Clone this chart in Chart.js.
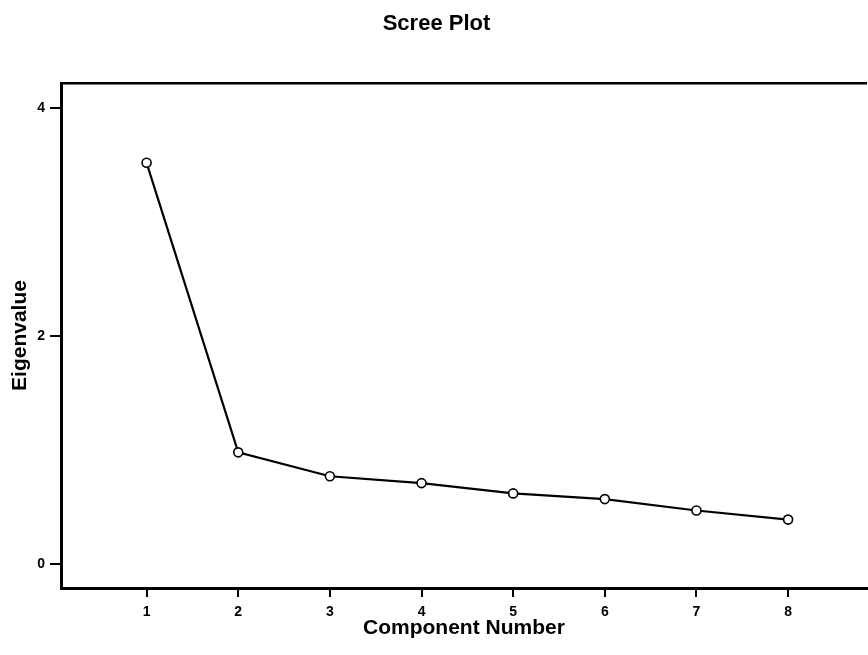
<!DOCTYPE html>
<html>
<head>
<meta charset="utf-8">
<script src="https://cdn.jsdelivr.net/npm/chart.js@4/dist/chart.umd.min.js"></script>
<style>
html,body{margin:0;padding:0;background:#fff;overflow:hidden;}
#wrap{width:868px;height:655px;position:relative;overflow:hidden;}
canvas{display:block;}
</style>
</head>
<body>
<div id="wrap"><canvas id="c" width="873" height="655"></canvas></div>
<script>
const components = [1, 2, 3, 4, 5, 6, 7, 8];
const eigenvalues = [3.52, 0.98, 0.77, 0.71, 0.62, 0.57, 0.47, 0.39];
const xTicks = [1, 2, 3, 4, 5, 6, 7, 8];
const yTicks = [0, 2, 4];

const FONT = "'Liberation Sans', Arial, sans-serif";
const points = components.map((c, i) => ({x: c, y: eigenvalues[i]}));

new Chart(document.getElementById('c'), {
  type: 'line',
  data: {
    datasets: [{
      data: points,
      borderColor: '#000',
      borderWidth: 2.2,
      pointRadius: 4.5,
      pointBorderWidth: 1.6,
      pointBackgroundColor: '#fff',
      pointBorderColor: '#000',
      tension: 0,
      fill: false
    }]
  },
  options: {
    responsive: false,
    animation: false,
    layout: {padding: 0},
    plugins: {
      legend: {display: false},
      tooltip: {enabled: false},
      title: {
        display: true,
        text: 'Scree Plot',
        color: '#000',
        font: {family: FONT, size: 22, weight: 'bold', lineHeight: 1},
        padding: {top: 13, bottom: 0}
      }
    },
    scales: {
      x: {
        type: 'linear',
        position: 'bottom',
        min: 0.066,
        max: 8.86,
        afterBuildTicks: s => { s.ticks = xTicks.map(v => ({value: v})); },
        afterFit: s => { s.height = 67; },
        grid: {display: true, drawOnChartArea: false, drawTicks: true, tickLength: 9, color: '#000', lineWidth: 2},
        border: {display: true, color: '#000', width: 3},
        ticks: {color: '#000', font: {family: FONT, size: 14, weight: 'bold', lineHeight: 1.2}, padding: 7, maxRotation: 0},
        title: {display: true, text: 'Component Number', color: '#000', font: {family: FONT, size: 21, weight: 'bold', lineHeight: 1}, padding: {top: 0, bottom: 16}}
      },
      x2: {
        type: 'linear',
        position: 'top',
        min: 0.066,
        max: 8.86,
        afterFit: s => { s.height = 48; },
        grid: {display: false},
        border: {display: true, color: '#000', width: 2.5},
        ticks: {display: false}
      },
      y: {
        type: 'linear',
        min: -0.21,
        max: 4.22,
        afterBuildTicks: s => { s.ticks = yTicks.map(v => ({value: v})); },
        afterFit: s => { s.width = 61; },
        grid: {display: true, drawOnChartArea: false, drawTicks: true, tickLength: 11, color: '#000', lineWidth: 2},
        border: {display: true, color: '#000', width: 3},
        ticks: {color: '#000', font: {family: FONT, size: 14, weight: 'bold'}, padding: 5},
        title: {display: true, text: 'Eigenvalue', color: '#000', font: {family: FONT, size: 21, weight: 'bold', lineHeight: 1}, padding: {top: 10, bottom: 0}}
      }
    }
  }
});
</script>
</body>
</html>
